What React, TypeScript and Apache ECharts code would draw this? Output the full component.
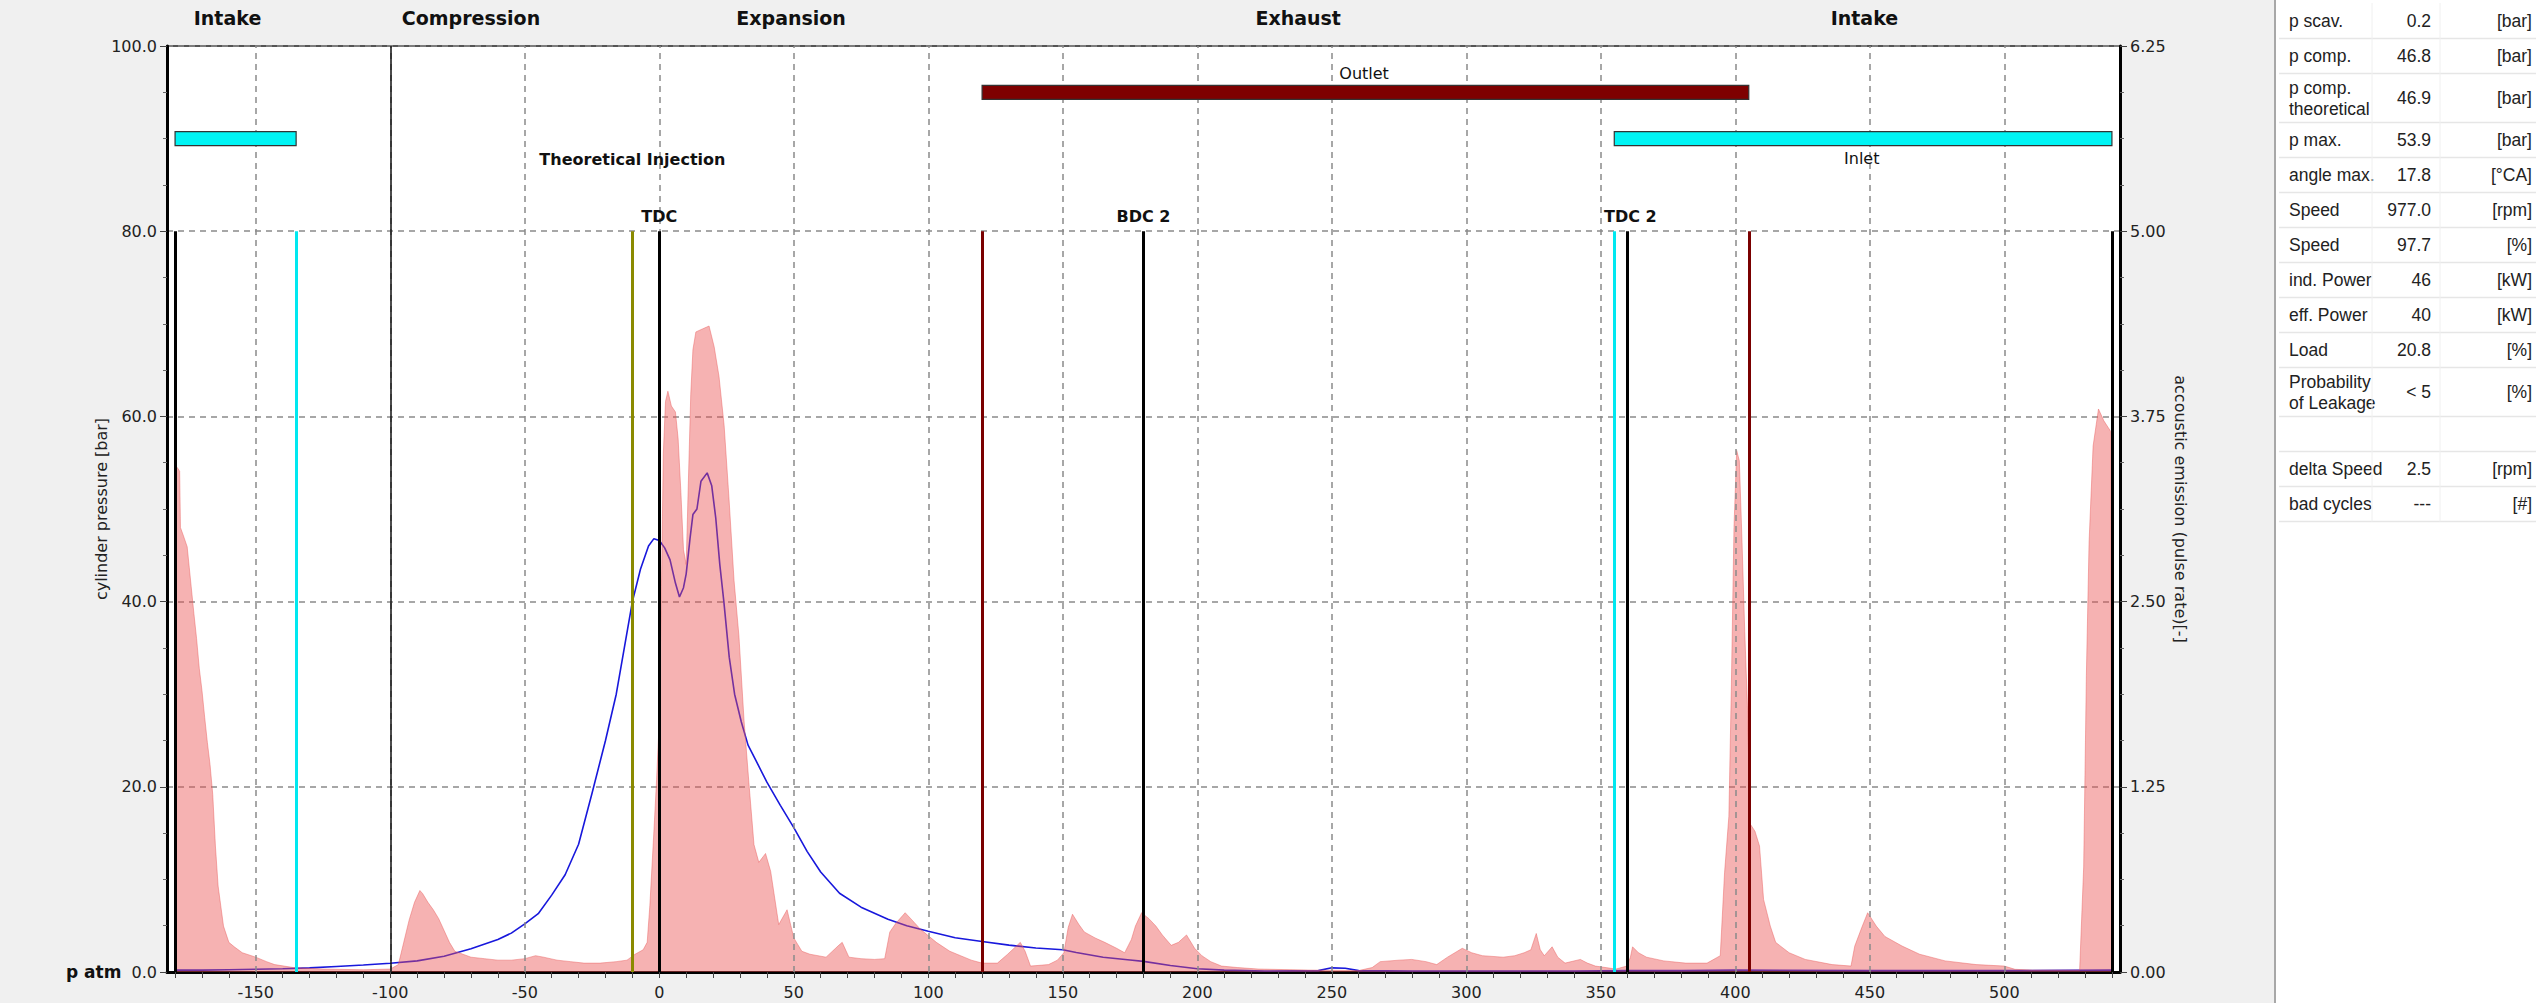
import React, { useEffect, useRef } from 'react';
import * as echarts from 'echarts';

// ---------- data ----------
const pressureAngles = [
  -180, -170, -160, -150, -140, -130, -120, -110, -100, -90, -80, -70, -60, -55, -50, -45, -40, -35, -30, -25,
  -20, -16, -13, -10, -7, -4, -2, 0, 2, 4, 6, 7.5, 9, 10, 11.5, 12.5, 14, 15.5, 17.8, 19.5,
  21, 22.5, 24, 26, 28, 30.5, 33, 36, 40, 45, 50, 55, 60, 67, 75, 85, 92, 100, 110, 120,
  130, 140, 150, 155, 165, 175, 180, 190, 200, 210, 225, 245, 250, 255, 260, 280, 300, 320, 340, 360,
  380, 400, 450, 500, 540,
];
const pressureValues = [
  0.2, 0.2, 0.25, 0.3, 0.35, 0.45, 0.6, 0.75, 0.95, 1.2, 1.7, 2.5, 3.5, 4.2, 5.2, 6.3, 8.3, 10.5, 13.8, 19.3,
  25, 30, 35, 40, 43.5, 46, 46.8, 46.6, 45.8, 44.5, 42, 40.5, 41.5, 43, 47, 49.4, 50, 53, 53.9, 52.5,
  49, 44, 40, 34, 30, 27, 24.5, 22.8, 20.5, 18, 15.6, 13, 10.8, 8.5, 7, 5.7, 5, 4.4, 3.7, 3.3,
  2.9, 2.6, 2.4, 2.1, 1.6, 1.3, 1.15, 0.7, 0.35, 0.2, 0.1, 0.15, 0.45, 0.4, 0.15, 0.1, 0.1, 0.1, 0.1, 0.15,
  0.15, 0.2, 0.15, 0.15, 0.2,
];

const aeAngles = [
  -180, -179, -178.3, -178, -177, -175.5, -174, -173, -172, -171, -170, -169, -168, -167, -166, -165, -164, -162, -160, -158,
  -155, -150, -146, -143, -136, -125, -110, -100, -97, -95, -93, -91, -89, -88, -86, -84, -82, -80, -78, -76,
  -73, -70, -65, -60, -55, -50, -46, -43, -38, -33, -28, -22, -16, -12, -9, -6, -4.5, -3.5, -2, -1,
  0, 0.8, 1.5, 2.3, 3.2, 4.5, 6, 7, 8, 9, 10, 10.8, 11.7, 12.5, 13.6, 16, 18.5, 20.4, 22.2, 24.1,
  25.9, 27.8, 29.6, 31.5, 33.3, 35.2, 37, 39.5, 41.4, 44.4, 47.5, 50, 53, 56, 59, 62, 66.7, 68, 70.5, 75,
  80, 83.8, 85.7, 88, 91.4, 94, 97, 103, 108, 112, 116, 120, 125.7, 129.5, 134.2, 136, 138, 144.7, 148, 150.4,
  152, 153.6, 156, 158, 162, 165.6, 170, 173, 175.5, 177, 179.3, 182, 184.6, 187, 190.3, 193, 196, 199, 201.7, 205,
  209, 215, 222.6, 241.4, 260, 265, 268, 275, 279.7, 285, 289, 293, 298.5, 302, 306, 313.7, 318, 321.5, 324, 326,
  327.5, 329, 331.9, 334, 336.7, 342.4, 345, 348, 355.6, 359.7, 361, 361.8, 364, 367, 373.4, 381.5, 389.5, 394.4, 396, 397.6,
  398.5, 399.5, 400.5, 401.5, 402.5, 403.5, 404.5, 405.5, 407.3, 409, 410.5, 413, 415, 420, 426, 436, 443, 444.4, 447, 449.2,
  452.4, 455.6, 462, 468.5, 478, 489.5, 500, 504, 510.5, 528, 529.5, 530.5, 531.5, 533, 535, 537, 539.5, 540,
];
const aeValues = [
  3.42, 3.4, 3.38, 3.0, 2.95, 2.87, 2.6, 2.42, 2.25, 2.05, 1.9, 1.72, 1.55, 1.4, 1.2, 0.85, 0.58, 0.31, 0.2, 0.17,
  0.13, 0.1, 0.07, 0.05, 0.03, 0.02, 0.015, 0.02, 0.05, 0.2, 0.35, 0.47, 0.55, 0.53, 0.47, 0.42, 0.36, 0.28, 0.2, 0.14,
  0.12, 0.1, 0.09, 0.08, 0.08, 0.09, 0.11, 0.1, 0.08, 0.07, 0.06, 0.06, 0.07, 0.08, 0.12, 0.15, 0.2, 0.45, 0.95, 1.3,
  1.7, 2.6, 3.5, 3.85, 3.92, 3.82, 3.78, 3.6, 3.25, 2.85, 2.75, 3.3, 3.9, 4.2, 4.32, 4.34, 4.36, 4.22, 4.02, 3.69,
  3.2, 2.64, 2.27, 1.7, 1.28, 0.86, 0.74, 0.8, 0.68, 0.32, 0.42, 0.23, 0.14, 0.12, 0.11, 0.1, 0.18, 0.2, 0.1, 0.09,
  0.085, 0.09, 0.27, 0.33, 0.4, 0.35, 0.29, 0.2, 0.14, 0.11, 0.08, 0.06, 0.06, 0.12, 0.2, 0.14, 0.04, 0.05, 0.08, 0.13,
  0.3, 0.39, 0.32, 0.27, 0.23, 0.2, 0.16, 0.13, 0.22, 0.31, 0.4, 0.36, 0.31, 0.25, 0.18, 0.2, 0.25, 0.16, 0.11, 0.07,
  0.04, 0.03, 0.02, 0.013, 0.01, 0.03, 0.07, 0.08, 0.085, 0.07, 0.05, 0.1, 0.16, 0.13, 0.11, 0.1, 0.11, 0.13, 0.15, 0.26,
  0.15, 0.11, 0.17, 0.1, 0.06, 0.085, 0.06, 0.04, 0.02, 0.04, 0.1, 0.17, 0.13, 0.1, 0.075, 0.06, 0.06, 0.11, 0.67, 1.05,
  1.9, 3.0, 3.52, 3.45, 2.9, 2.3, 1.8, 1.0, 0.95, 0.85, 0.49, 0.31, 0.2, 0.13, 0.085, 0.05, 0.04, 0.175, 0.3, 0.4,
  0.31, 0.24, 0.175, 0.12, 0.075, 0.05, 0.04, 0.018, 0.013, 0.013, 0.71, 2.0, 2.9, 3.55, 3.8, 3.72, 3.65, 0,
];

const xLabelValues = [-150, -100, -50, 0, 50, 100, 150, 200, 250, 300, 350, 400, 450, 500];
const xTickValues = [
  -180, -170, -160, -150, -140, -130, -120, -110, -100, -90, -80, -70, -60, -50, -40, -30, -20, -10, 0, 10,
  20, 30, 40, 50, 60, 70, 80, 90, 100, 110, 120, 130, 140, 150, 160, 170, 180, 190, 200, 210,
  220, 230, 240, 250, 260, 270, 280, 290, 300, 310, 320, 330, 340, 350, 360, 370, 380, 390, 400, 410,
  420, 430, 440, 450, 460, 470, 480, 490, 500, 510, 520, 530, 540,
];

const phaseNames = ['Intake', 'Compression', 'Expansion', 'Exhaust', 'Intake'];
const phaseCenters = [-160.5, -70, 49, 237.5, 448];

const markerAngles = [-180, -135, -100, -10, 0, 120, 180, 355, 360, 405, 540];
const markerKinds = ['dc', 'inlet', 'phase', 'injection', 'dc', 'outlet', 'dc', 'inlet', 'dc', 'outlet', 'dc'];

const valveStarts = [-180, 120, 355];
const valveEnds = [-135, 405, 540];
const valveLevels = [90, 95, 90];
const valveKinds = ['inlet', 'outlet', 'inlet'];

const annotationTexts = ['Theoretical Injection', 'TDC', 'BDC 2', 'TDC 2', 'Outlet', 'Inlet'];
const annotationAngles = [-10, 0, 180, 361, 262, 447];
const annotationLevels = [87.7, 81.6, 81.6, 81.6, 97, 87.8];
const annotationBold = [true, true, true, true, false, false];

const tableLabels = ['p scav.', 'p comp.', 'p comp.\ntheoretical', 'p max.', 'angle max.', 'Speed', 'Speed', 'ind. Power', 'eff. Power', 'Load', 'Probability\nof Leakage', '', 'delta Speed', 'bad cycles'];
const tableValues = ['0.2', '46.8', '46.9', '53.9', '17.8', '977.0', '97.7', '46', '40', '20.8', '< 5', '', '2.5', '---'];
const tableUnits = ['[bar]', '[bar]', '[bar]', '[bar]', '[°CA]', '[rpm]', '[%]', '[kW]', '[kW]', '[%]', '[%]', '', '[rpm]', '[#]'];

// ---------- styles ----------
const FONT = 'DejaVu Sans';
const markerStyle: Record<string, { color: string; width: number; top: number }> = {
  dc: { color: '#000000', width: 3, top: 80 },
  inlet: { color: '#00E8F0', width: 3, top: 80 },
  phase: { color: '#111111', width: 1.5, top: 100 },
  injection: { color: '#8A8A00', width: 3, top: 80 },
  outlet: { color: '#7A0000', width: 3, top: 80 },
};
const valveColor: Record<string, string> = { inlet: '#00F4F4', outlet: '#7E0000' };

export default function App() {
  const ref = useRef<HTMLDivElement>(null);

  useEffect(() => {
    document.body.style.margin = '0';
    const chart = echarts.init(ref.current!, null, { renderer: 'svg' });

    const gridDash = { type: [6, 5] as any, color: '#8a8a8a', width: 1.5 };

    // table graphic
    const graphic: any[] = [];
    graphic.push({ type: 'rect', shape: { x: 2276, y: 0, width: 263, height: 1003 }, style: { fill: '#ffffff' }, z: 0 });
    graphic.push({ type: 'line', shape: { x1: 2275, y1: 0, x2: 2275, y2: 1003 }, style: { stroke: '#a8a8a8', lineWidth: 2 } });
    let y = 3.5;
    const colL = 2289, colV = 2431, colU = 2532;
    tableLabels.forEach((lab, i) => {
      const lines = lab.split('\n').length;
      const h = lines > 1 ? 49 : 35;
      const cy = y + h / 2;
      const tStyle = { fontFamily: 'Liberation Sans', fontSize: 17.5, fill: '#222', verticalAlign: 'middle', lineHeight: 21 };
      graphic.push({ type: 'text', x: colL, y: cy, style: { ...tStyle, text: lab, align: 'left' } });
      graphic.push({ type: 'text', x: colV, y: cy, style: { ...tStyle, text: tableValues[i], align: 'right' } });
      graphic.push({ type: 'text', x: colU, y: cy, style: { ...tStyle, text: tableUnits[i], align: 'right' } });
      y += h;
      graphic.push({ type: 'line', shape: { x1: 2279, y1: y, x2: 2536, y2: y }, style: { stroke: '#e6e6e6', lineWidth: 1.5 } });
    });
    graphic.push({ type: 'line', shape: { x1: 2372, y1: 3, x2: 2372, y2: y }, style: { stroke: '#f0f0f0', lineWidth: 1 } });
    graphic.push({ type: 'line', shape: { x1: 2440, y1: 3, x2: 2440, y2: y }, style: { stroke: '#f0f0f0', lineWidth: 1 } });

    const option: any = {
      animation: false,
      backgroundColor: '#F0F0F0',
      textStyle: { fontFamily: FONT },
      grid: {
        left: 167, top: 46, width: 1953, height: 926,
        show: true, backgroundColor: '#ffffff', borderColor: '#555555', borderWidth: 2,
      },
      xAxis: {
        type: 'value', min: -183, max: 543,
        axisLine: { show: true, onZero: false, lineStyle: { color: '#000', width: 3 } },
        axisTick: { show: true, customValues: xTickValues, length: 6, lineStyle: { color: '#444', width: 1 } },
        axisLabel: { customValues: xLabelValues, fontSize: 16, color: '#222', margin: 12, fontFamily: FONT },
        splitLine: { show: false },
      },
      yAxis: [
        {
          type: 'value', min: 0, max: 100, interval: 20, position: 'left',
          axisLine: { show: true, onZero: false, lineStyle: { color: '#000', width: 3 } },
          axisTick: { show: true, length: 7, lineStyle: { color: '#444' } },
          minorTick: { show: true, splitNumber: 4, length: 4, lineStyle: { color: '#666' } },
          axisLabel: {
            fontSize: 16, color: '#222', margin: 10, fontFamily: FONT,
            formatter: (v: number) => (v === 0 ? '{b|p atm}  0.0' : v.toFixed(1)),
            rich: { b: { fontWeight: 'bold', fontSize: 17, color: '#111', fontFamily: FONT } },
          },
          splitLine: { show: true, lineStyle: gridDash },
          name: 'cylinder pressure [bar]', nameLocation: 'middle', nameGap: 58, nameRotate: 90,
          nameMoveOverlap: false,
          nameTextStyle: { fontSize: 16, color: '#222', fontFamily: FONT },
        },
        {
          type: 'value', min: 0, max: 6.25, interval: 1.25, position: 'right',
          axisLine: { show: true, onZero: false, lineStyle: { color: '#000', width: 3 } },
          axisTick: { show: true, length: 7, lineStyle: { color: '#444' } },
          minorTick: { show: true, splitNumber: 4, length: 4, lineStyle: { color: '#666' } },
          axisLabel: { fontSize: 16, color: '#222', margin: 10, fontFamily: FONT, formatter: (v: number) => v.toFixed(2) },
          splitLine: { show: false },
          name: 'accoustic emission (pulse rate)[-]', nameLocation: 'middle', nameGap: 52, nameRotate: -90,
          nameMoveOverlap: false,
          nameTextStyle: { fontSize: 16, color: '#222', fontFamily: FONT },
        },
      ],
      graphic,
      series: [
        // vertical dashed grid lines
        {
          type: 'line', data: [], z: 1, silent: true,
          markLine: {
            silent: true, symbol: ['none', 'none'], label: { show: false },
            lineStyle: gridDash,
            data: xLabelValues.map((v) => ({ xAxis: v })),
          },
        },
        // marker lines
        {
          type: 'line', data: [], z: 2, silent: true,
          markLine: {
            silent: true, symbol: ['none', 'none'], label: { show: false },
            data: markerAngles.map((a, i) => {
              const st = markerStyle[markerKinds[i]];
              return [
                { coord: [a, 0], lineStyle: { color: st.color, width: st.width, type: 'solid' } },
                { coord: [a, st.top] },
              ];
            }),
          },
        },
        // cylinder pressure
        {
          name: 'cylinder pressure', type: 'line', xAxisIndex: 0, yAxisIndex: 0, z: 3,
          showSymbol: false, symbol: 'none',
          lineStyle: { color: '#1818DC', width: 1.6 },
          data: pressureAngles.map((a, i) => [a, pressureValues[i]]),
        },
        // acoustic emission
        {
          name: 'acoustic emission', type: 'line', xAxisIndex: 0, yAxisIndex: 1, z: 4,
          showSymbol: false, symbol: 'none',
          lineStyle: { color: 'rgba(232,90,90,0.45)', width: 1 },
          areaStyle: { color: 'rgba(235,80,80,0.44)', opacity: 1 },
          data: aeAngles.map((a, i) => [a, aeValues[i]]),
        },
        // valve bars
        {
          type: 'custom', xAxisIndex: 0, yAxisIndex: 0, z: 5, clip: false, silent: true,
          encode: { x: [0, 1], y: 2 },
          renderItem: (_p: any, api: any) => {
            const p0 = api.coord([api.value(0), api.value(2)]);
            const p1 = api.coord([api.value(1), api.value(2)]);
            const h = 14;
            return {
              type: 'rect',
              shape: { x: p0[0], y: p0[1] - h / 2, width: p1[0] - p0[0], height: h },
              style: { fill: api.visual('color'), stroke: '#333', lineWidth: 1.2 },
            };
          },
          data: valveStarts.map((s, i) => ({
            value: [s, valveEnds[i], valveLevels[i]],
            itemStyle: { color: valveColor[valveKinds[i]] },
          })),
        },
        // labels
        {
          type: 'line', data: [], z: 6, silent: true,
          markPoint: {
            silent: true, symbol: 'circle', symbolSize: 1, itemStyle: { color: 'rgba(0,0,0,0)' },
            data: [
              ...annotationTexts.map((t, i) => ({
                coord: [annotationAngles[i], annotationLevels[i]],
                label: {
                  show: true, position: 'inside', formatter: t, color: '#111',
                  fontFamily: FONT, fontSize: 16, fontWeight: annotationBold[i] ? 'bold' : 'normal',
                },
              })),
              ...phaseNames.map((t, i) => ({
                coord: [phaseCenters[i], 100],
                label: {
                  show: true, position: 'inside', offset: [0, -28], formatter: t, color: '#111',
                  fontFamily: FONT, fontSize: 19, fontWeight: 'bold',
                },
              })),
            ],
          },
        },
      ],
    };

    chart.setOption(option);
    return () => chart.dispose();
  }, []);

  return <div ref={ref} style={{ position: 'fixed', left: 0, top: 0, width: 2539, height: 1003 }} />;
}
